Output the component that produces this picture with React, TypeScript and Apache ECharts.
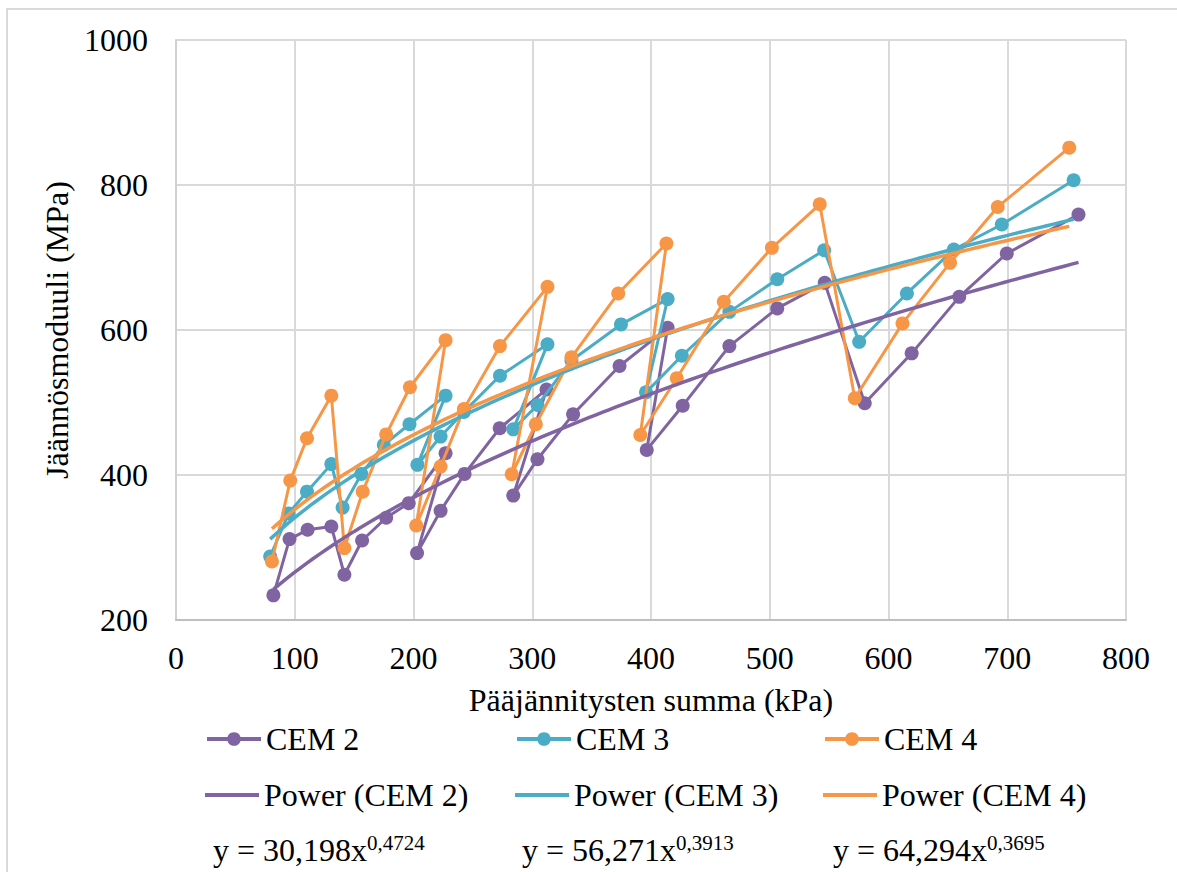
import React, { useEffect, useRef } from "react";
import * as echarts from "echarts";

// ---- Data ----
const cem2X = [82, 95.6, 110.8, 130.8, 141.8, 156.7, 177, 196, 227, 203, 222.8, 243, 272.6, 312, 284, 304.4, 334.4, 373.5, 414, 396.4, 426.7, 466, 506.3, 546.3, 580, 619.5, 659.6, 699.6, 760];
const cem2Y = [234, 311.6, 324.4, 329, 262.4, 309.7, 341, 361.2, 430, 292.3, 350.6, 401.5, 464.5, 518, 371.6, 421.8, 483.7, 550.3, 603, 434.6, 495.6, 577.8, 629.8, 665, 499, 567.8, 645.7, 705.5, 759.2];

const cem3X = [79.3, 94.8, 110.3, 130.8, 140.3, 156.1, 175, 196.6, 227, 203.3, 222.8, 242.4, 272.8, 312.8, 284, 304.4, 333, 374.7, 414, 395.8, 426, 466, 506.3, 545.8, 575.3, 615.5, 655, 695.4, 755.9];
const cem3Y = [287.6, 347, 377, 415, 355, 401.5, 441.5, 470, 509.4, 414, 453, 487, 536.9, 580.2, 463, 496.5, 558, 607.7, 642.6, 514, 564.5, 625, 670, 710, 583.7, 650.4, 711, 745.5, 806.5];

const cem4X = [80.8, 96.2, 110.3, 130.8, 141.8, 157.2, 177, 197, 227, 202.3, 222.8, 242.4, 272.8, 312.8, 282.7, 303, 333, 372.4, 413, 391, 421.7, 461.3, 501.8, 542.1, 571.6, 611.8, 651.8, 692, 752.2];
const cem4Y = [280.7, 392.3, 450.7, 509.4, 299.2, 377, 456, 521, 586, 330.3, 411.6, 491, 577.8, 659.5, 401, 470, 562.3, 650.4, 719.3, 455.2, 533.4, 638.9, 713.3, 773.4, 505.8, 609.1, 692.6, 769.7, 851.5];

const seriesNames = ["CEM 2", "CEM 3", "CEM 4"];
const trendNames = ["Power (CEM 2)", "Power (CEM 3)", "Power (CEM 4)"];
// Power trendline coefficients shown on the chart: y = a * x^b
const powA = [30.198, 56.271, 64.294];
const powB = [0.4724, 0.3913, 0.3695];
const equationLabels = [
  ["y = 30,198x", "0,4724"],
  ["y = 56,271x", "0,3913"],
  ["y = 64,294x", "0,3695"],
];
const xTicks = { min: 0, max: 800, interval: 100 };
const yTicks = { min: 200, max: 1000, interval: 200 };

const COLORS = ["#8064A2", "#4BACC6", "#F79646"];
const FONT = "Liberation Serif";
const FS = 32;

function pairs(xs: number[], ys: number[]) {
  return xs.map((x, i) => [x, ys[i]]);
}

function trend(a: number, b: number, xs: number[]) {
  const lo = Math.min(...xs);
  const hi = Math.max(...xs);
  const pts: number[][] = [];
  const n = 120;
  for (let i = 0; i <= n; i++) {
    const x = lo + ((hi - lo) * i) / n;
    pts.push([x, a * Math.pow(x, b)]);
  }
  return pts;
}

export default function App() {
  const ref = useRef<HTMLDivElement>(null);
  useEffect(() => {
    if (!ref.current) return;
    const chart = echarts.init(ref.current, null, { renderer: "svg" });
    const data = [pairs(cem2X, cem2Y), pairs(cem3X, cem3Y), pairs(cem4X, cem4Y)];
    const xsAll = [cem2X, cem3X, cem4X];

    const dataSeries = data.map((d, i) => ({
      name: seriesNames[i],
      type: "line",
      data: d,
      symbol: "circle",
      symbolSize: 14,
      itemStyle: { color: COLORS[i] },
      lineStyle: { color: COLORS[i], width: 3 },
      z: 2 + i,
    }));
    const trendSeries = xsAll.map((xs, i) => ({
      name: trendNames[i],
      type: "line",
      data: trend(powA[i], powB[i], xs),
      showSymbol: false,
      symbol: "none",
      smooth: false,
      itemStyle: { color: COLORS[i] },
      lineStyle: { color: COLORS[i], width: 3.5 },
      z: 6 + i,
    }));

    const colLeft = [205, 515, 823];
    const legends: any[] = [];
    const textStyle = { fontFamily: FONT, fontSize: FS, color: "#000" };
    seriesNames.forEach((n, i) => {
      legends.push({
        data: [n],
        left: colLeft[i],
        top: 723,
        padding: 0,
        itemWidth: 54,
        itemHeight: 17,
        itemGap: 0,
        lineStyle: { width: 4 },
        textStyle,
        selectedMode: false,
      });
    });
    trendNames.forEach((n, i) => {
      legends.push({
        data: [{ name: n, icon: "rect" }],
        left: colLeft[i],
        top: 779,
        padding: 0,
        itemWidth: 54,
        itemHeight: 4,
        itemGap: 0,
        textStyle,
        selectedMode: false,
      });
    });

    const eqLeft = [213, 522, 833];
    const graphics: any[] = [
      {
        type: "rect",
        shape: { x: 7, y: 9, width: 1300, height: 1000 },
        style: { fill: "none", stroke: "#d9d9d9", lineWidth: 2 },
        silent: true,
      },
      ...equationLabels.map((e, i) => ({
        type: "text",
        left: eqLeft[i],
        top: 832,
        style: {
          text: `{b|${e[0]}}{s|${e[1]}}`,
          rich: {
            b: { fontFamily: FONT, fontSize: FS, fill: "#000", lineHeight: 34, verticalAlign: "bottom" },
            s: { fontFamily: FONT, fontSize: 21, fill: "#000", lineHeight: 30, verticalAlign: "top" },
          },
        },
      })),
    ];

    chart.setOption({
      animation: false,
      backgroundColor: "#fff",
      textStyle: { fontFamily: FONT },
      grid: { left: 176, top: 40, right: 51, bottom: 252, containLabel: false },
      xAxis: {
        type: "value",
        min: xTicks.min,
        max: xTicks.max,
        interval: xTicks.interval,
        name: "Pääjännitysten summa (kPa)",
        nameLocation: "middle",
        nameGap: 64,
        nameTextStyle: { fontFamily: FONT, fontSize: FS, color: "#000" },
        axisLine: { show: true, lineStyle: { color: "#bfbfbf", width: 2 } },
        axisTick: { show: false },
        axisLabel: { fontFamily: FONT, fontSize: FS, color: "#000", margin: 22, formatter: (v: number) => String(v) },
        splitLine: { show: true, lineStyle: { color: "#d9d9d9", width: 2 } },
      },
      yAxis: {
        type: "value",
        min: yTicks.min,
        max: yTicks.max,
        interval: yTicks.interval,
        name: "Jäännösmoduuli (MPa)",
        nameLocation: "middle",
        nameGap: 103,
        nameTextStyle: { fontFamily: FONT, fontSize: FS, color: "#000" },
        axisLine: { show: true, lineStyle: { color: "#d0d0d0", width: 2 } },
        axisTick: { show: false },
        axisLabel: { fontFamily: FONT, fontSize: FS, color: "#000", margin: 28, formatter: (v: number) => String(v) },
        splitLine: { show: true, lineStyle: { color: "#d9d9d9", width: 2 } },
      },
      legend: legends,
      series: [...dataSeries, ...trendSeries],
      graphic: graphics,
    });
    return () => chart.dispose();
  }, []);
  return (
    <div
      ref={ref}
      style={{ position: "absolute", left: 0, top: 0, width: 1177, height: 872 }}
    />
  );
}
